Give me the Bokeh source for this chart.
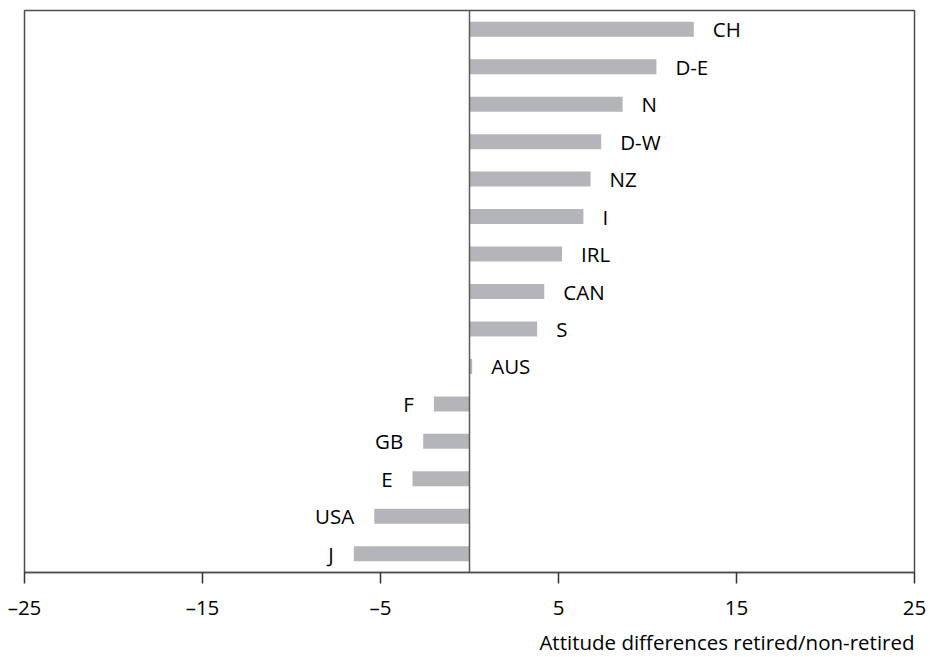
from bokeh.plotting import figure
from bokeh.models import ColumnDataSource, FixedTicker, Span, Title
from bokeh.core.properties import value
from bokeh.embed import file_html
from bokeh.resources import INLINE

countries = ["CH", "D-E", "N", "D-W", "NZ", "I", "IRL", "CAN", "S", "AUS",
             "F", "GB", "E", "USA", "J"]
diffs = [12.6, 10.5, 8.6, 7.4, 6.8, 6.4, 5.2, 4.2, 3.8, 0.15,
         -2.0, -2.6, -3.2, -5.35, -6.5]
ticks = [-25, -15, -5, 5, 15, 25]
tick_labels = ["\u201325", "\u201315", "\u20135", "5", "15", "25"]
x_label = "Attitude differences retired/non-retired"

FONT = "Open Sans"
FS = "20.5px"

p = figure(width=930, height=657, output_backend="svg", toolbar_location=None,
           x_range=(-25, 25), y_range=list(reversed(countries)),
           min_border_left=24, min_border_right=16, min_border_top=10,
           min_border_bottom=84)

pos = [c for c, v in zip(countries, diffs) if v >= 0]
posv = [v for v in diffs if v >= 0]
neg = [c for c, v in zip(countries, diffs) if v < 0]
negv = [v for v in diffs if v < 0]

src = ColumnDataSource(dict(y=countries, right=diffs))
p.hbar(y="y", left=0, right="right", height=0.4, source=src,
       fill_color="#b4b5b8", line_color=None)

p.text(x=posv, y=pos, text=pos, x_offset=19, text_align="left",
       text_baseline="middle", text_font=value(FONT), text_font_size=FS,
       text_color="#000000")
p.text(x=negv, y=neg, text=neg, x_offset=-20, text_align="right",
       text_baseline="middle", text_font=value(FONT), text_font_size=FS,
       text_color="#000000")

p.add_layout(Span(location=0, dimension="height", line_color="#5a5a5a",
                  line_width=1.5))

p.xgrid.visible = False
p.ygrid.visible = False
p.yaxis.visible = False
p.outline_line_color = "#4d4d4d"
p.outline_line_width = 1.5
p.outline_line_alpha = 1

ax = p.xaxis[0]
ax.ticker = FixedTicker(ticks=ticks)
ax.major_label_overrides = {t: l for t, l in zip(ticks, tick_labels)}
ax.minor_tick_line_color = None
ax.major_tick_in = 0
ax.major_tick_out = 11
ax.major_tick_line_color = "#333333"
ax.major_tick_line_width = 1.5
ax.axis_line_color = "#4d4d4d"
ax.axis_line_width = 1.5
ax.major_label_standoff = 9
ax.major_label_text_font = FONT
ax.major_label_text_font_size = FS
ax.major_label_text_color = "#000000"

t = Title(text=x_label, align="right", text_font=FONT, text_font_size=FS,
          text_font_style="normal", text_color="#000000", offset=0,
          standoff=4)
p.add_layout(t, "below")

open("out.html", "w").write(file_html(p, INLINE))
